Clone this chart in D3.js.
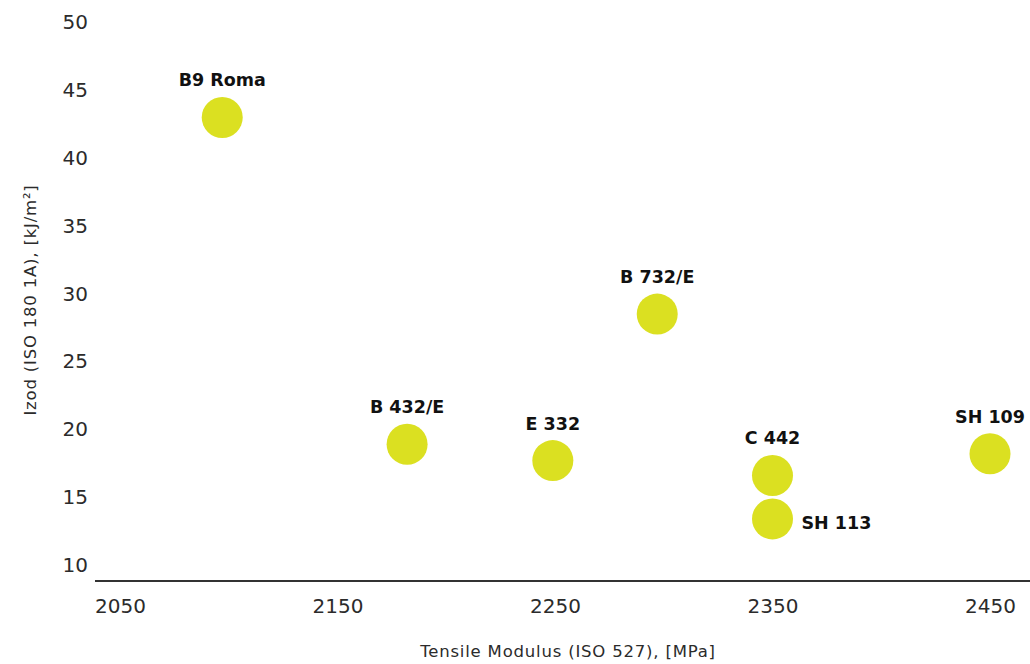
<!DOCTYPE html>
<meta charset="utf-8">
<style>
body { margin: 0; background: #fff; }
.tick text { font-family: "DejaVu Sans", sans-serif; font-size: 20px; fill: #2b2b2b; }
.axis path, .axis line { display: none; }
.lbl { font-family: "DejaVu Sans", sans-serif; font-size: 17.5px; font-weight: bold; fill: #111; }
.title { font-family: "DejaVu Sans", sans-serif; font-size: 16.5px; letter-spacing: 0.8px; fill: #2b2b2b; }
</style>
<svg width="1030" height="664" class="top"></svg>
<script src="https://d3js.org/d3.v7.min.js"></script>
<script>

var names  = ["B9 Roma", "B 432/E", "E 332", "B 732/E", "C 442", "SH 113", "SH 109"];
var moduli = [2097, 2182, 2249, 2297, 2350, 2350, 2450];
var izod   = [43.0, 18.9, 17.7, 28.5, 16.6, 13.4, 18.2];
var labelSide = ["top", "top", "top", "top", "top", "right", "top"];

var xTicks = [2050, 2150, 2250, 2350, 2450];
var yTicks = [10, 15, 20, 25, 30, 35, 40, 45, 50];

var svg = d3.select(".top"),
    width = +svg.attr("width"),
    height = +svg.attr("height");

var x = d3.scaleLinear().domain([2050, 2450]).range([120, 990]);
var y = d3.scaleLinear().domain([10, 50]).range([565, 22.5]);
var baseY = 581;

// y axis ticks (labels only)
svg.append("g")
    .attr("class", "axis")
    .attr("transform", "translate(88,0)")
    .call(d3.axisLeft(y).tickValues(yTicks).tickSize(0).tickPadding(0));

// x axis
svg.append("line")
    .attr("x1", 95).attr("x2", width)
    .attr("y1", baseY).attr("y2", baseY)
    .attr("stroke", "#333").attr("stroke-width", 2);

svg.append("g")
    .attr("class", "axis")
    .attr("transform", "translate(0," + baseY + ")")
    .call(d3.axisBottom(x).tickValues(xTicks).tickFormat(d3.format("d")).tickSize(0).tickPadding(18));

// axis titles
svg.append("text")
    .attr("class", "title")
    .attr("text-anchor", "middle")
    .attr("transform", "translate(36,300) rotate(-90)")
    .text("Izod (ISO 180 1A), [kJ/m²]");

svg.append("text")
    .attr("class", "title")
    .attr("text-anchor", "middle")
    .attr("x", 568).attr("y", 657)
    .text("Tensile Modulus (ISO 527), [MPa]");

var data = names.map(function(n, i) {
  return {name: n, x: moduli[i], y: izod[i], side: labelSide[i]};
});

var pts = svg.selectAll(".pt")
  .data(data)
  .enter().append("g")
    .attr("class", "pt")
    .attr("transform", function(d) { return "translate(" + x(d.x) + "," + y(d.y) + ")"; });

pts.append("circle")
    .attr("r", 20.5)
    .attr("fill", "#dbe021");

pts.append("text")
    .attr("class", "lbl")
    .attr("text-anchor", function(d) { return d.side == "right" ? "start" : "middle"; })
    .attr("x", function(d) { return d.side == "right" ? 29 : 0; })
    .attr("y", function(d) { return d.side == "right" ? 10 : -31; })
    .text(function(d) { return d.name; });

</script>
